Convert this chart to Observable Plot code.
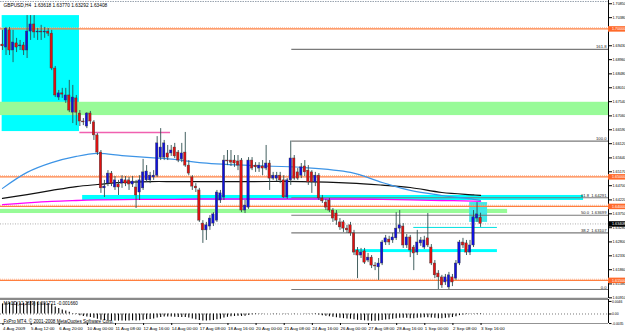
<!DOCTYPE html>
<html><head><meta charset="utf-8">
<script src="https://cdn.jsdelivr.net/npm/d3@7"></script>
<script src="https://cdn.jsdelivr.net/npm/@observablehq/plot@0.6"></script>
<style>
html,body{margin:0;padding:0;background:#fff;}
#wrap{width:625px;height:333px;overflow:hidden;background:#fff;}
#wrap svg{display:block;}
</style></head>
<body><div id="wrap"></div>
<script>
// ---------- DATA ----------
const symbol = "GBPUSD,H4";
const open = [1.6947,1.6937,1.6995,1.6927,1.6951,1.6941,1.6944,1.6927,1.6991,1.7015,
1.6988,1.6991,1.6988,1.6991,1.6984,1.6866,1.6768,1.6782,1.6758,1.6775,
1.6717,1.6765,1.6714,1.6687,1.6670,1.6714,1.6684,1.6640,1.6582,1.6461,
1.6477,1.6511,1.6464,1.6474,1.6477,1.6488,1.6488,1.6474,1.6464,1.6447,
1.6461,1.6488,1.6488,1.6498,1.6504,1.6565,1.6565,1.6579,1.6579,1.6599,
1.6582,1.6559,1.6582,1.6538,1.6498,1.6467,1.6454,1.6342,1.6319,1.6332,
1.6342,1.6352,1.6420,1.6430,1.6555,1.6555,1.6555,1.6552,1.6555,1.6386,
1.6396,1.6555,1.6538,1.6528,1.6535,1.6528,1.6545,1.6494,1.6494,1.6504,
1.6488,1.6430,1.6488,1.6562,1.6515,1.6504,1.6535,1.6521,1.6515,1.6481,
1.6504,1.6427,1.6413,1.6420,1.6386,1.6376,1.6346,1.6346,1.6325,1.6336,
1.6309,1.6251,1.6234,1.6248,1.6217,1.6227,1.6200,1.6194,1.6207,1.6278,
1.6288,1.6285,1.6292,1.6325,1.6332,1.6268,1.6295,1.6261,1.6244,1.6275,
1.6261,1.6292,1.6261,1.6207,1.6173,1.6160,1.6143,1.6126,1.6160,1.6156,
1.6207,1.6278,1.6275,1.6244,1.6268,1.6359,1.63618];
const high = [1.6995,1.7005,1.7005,1.6995,1.6968,1.6961,1.6954,1.7045,1.7045,1.7045,
1.7001,1.7012,1.7005,1.7001,1.6995,1.6873,1.6792,1.6799,1.6799,1.6826,
1.6809,1.6775,1.6724,1.6697,1.6717,1.6721,1.6690,1.6646,1.6589,1.6488,
1.6521,1.6518,1.6501,1.6488,1.6504,1.6501,1.6498,1.6501,1.6488,1.6504,
1.6559,1.6538,1.6515,1.6521,1.6636,1.6663,1.6623,1.6606,1.6606,1.6613,
1.6589,1.6613,1.6650,1.6555,1.6504,1.6477,1.6461,1.6352,1.6346,1.6369,
1.6379,1.6454,1.6454,1.6572,1.6589,1.6589,1.6572,1.6572,1.6562,1.6420,
1.6565,1.6565,1.6548,1.6548,1.6555,1.6606,1.6555,1.6515,1.6515,1.6515,
1.6504,1.6494,1.6621,1.6572,1.6528,1.6545,1.6555,1.6538,1.6521,1.6515,
1.6511,1.6437,1.6424,1.6427,1.6393,1.6386,1.6359,1.6352,1.6336,1.6346,
1.6319,1.6261,1.6258,1.6258,1.6241,1.6234,1.6210,1.6224,1.6285,1.6302,
1.6299,1.6309,1.6379,1.6386,1.6342,1.6305,1.6302,1.6268,1.6319,1.6295,
1.6299,1.6376,1.6271,1.6217,1.6183,1.6167,1.6170,1.6177,1.6170,1.6217,
1.6285,1.6292,1.6285,1.6285,1.6386,1.6413,1.63770];
const low = [1.6927,1.6910,1.6910,1.6886,1.6920,1.6927,1.6910,1.6900,1.6961,1.6968,
1.6961,1.6961,1.6968,1.6974,1.6859,1.6768,1.6758,1.6765,1.6748,1.6717,
1.6680,1.6673,1.6670,1.6673,1.6663,1.6677,1.6623,1.6572,1.6444,1.6430,
1.6467,1.6467,1.6454,1.6437,1.6461,1.6467,1.6454,1.6464,1.6393,1.6420,
1.6454,1.6481,1.6477,1.6488,1.6498,1.6555,1.6555,1.6555,1.6569,1.6562,
1.6548,1.6548,1.6532,1.6504,1.6454,1.6447,1.6346,1.6275,1.6285,1.6319,
1.6332,1.6346,1.6410,1.6420,1.6538,1.6535,1.6532,1.6521,1.6379,1.6376,
1.6390,1.6521,1.6515,1.6515,1.6504,1.6521,1.6454,1.6488,1.6484,1.6477,
1.6427,1.6424,1.6471,1.6488,1.6488,1.6494,1.6501,1.6471,1.6444,1.6467,
1.6420,1.6410,1.6386,1.6379,1.6346,1.6336,1.6319,1.6312,1.6309,1.6299,
1.6234,1.6156,1.6224,1.6204,1.6210,1.6190,1.6183,1.6150,1.6200,1.6268,
1.6268,1.6275,1.6285,1.6312,1.6258,1.6258,1.6227,1.6183,1.6234,1.6265,
1.6254,1.6261,1.6200,1.6156,1.6119,1.6123,1.6133,1.6119,1.6129,1.6150,
1.6200,1.6258,1.6234,1.6234,1.6261,1.6346,1.63292];
const close = [1.6941,1.7001,1.6927,1.6954,1.6937,1.6944,1.6927,1.6991,1.7015,1.6988,
1.6991,1.6988,1.6991,1.6984,1.6866,1.6775,1.6782,1.6778,1.6775,1.6724,
1.6768,1.6717,1.6687,1.6684,1.6714,1.6687,1.6640,1.6582,1.6461,1.6467,
1.6511,1.6477,1.6488,1.6464,1.6491,1.6477,1.6474,1.6484,1.6437,1.6488,
1.6515,1.6518,1.6504,1.6504,1.6613,1.6599,1.6613,1.6565,1.6589,1.6569,
1.6555,1.6579,1.6538,1.6511,1.6467,1.6461,1.6352,1.6319,1.6336,1.6359,
1.6373,1.6447,1.6444,1.6555,1.6552,1.6548,1.6545,1.6538,1.6386,1.6403,
1.6555,1.6528,1.6532,1.6538,1.6528,1.6545,1.6494,1.6504,1.6504,1.6488,
1.6430,1.6488,1.6562,1.6494,1.6494,1.6532,1.6515,1.6481,1.6481,1.6504,
1.6427,1.6417,1.6396,1.6386,1.6359,1.6352,1.6329,1.6325,1.6319,1.6309,
1.6244,1.6234,1.6244,1.6210,1.6227,1.6200,1.6197,1.6207,1.6278,1.6292,
1.6278,1.6295,1.6325,1.6336,1.6268,1.6295,1.6251,1.6241,1.6278,1.6285,
1.6285,1.6268,1.6207,1.6167,1.6160,1.6133,1.6160,1.6167,1.6143,1.6207,
1.6278,1.6268,1.6244,1.6268,1.6363,1.6373,1.63408];

// moving averages, read at sample bars
const maBars    = [0,7,14,21,27,34,42,49,56,71,85,99,108,116,125,134,136];
const maBlue    = [1.6461,1.6515,1.6548,1.6569,1.6579,1.6572,1.6565,1.6559,1.6548,1.6538,1.6532,1.6515,1.6481,1.6454,1.6437,1.6424,1.6420];
const maBlack   = [1.6427,1.6440,1.6454,1.6467,1.6474,1.6481,1.6484,1.6484,1.6484,1.6484,1.6484,1.6479,1.6472,1.6464,1.6447,1.6439,1.6437];
const maMagenta = [1.6406,1.6412,1.6417,1.6420,1.6422,1.6423,1.6424,1.6424,1.6425,1.6425,1.6425,1.6425,1.6424,1.6422,1.6420,1.6418,1.6417];

// oscillator histogram
const osc = [0.0037,0.0040,0.0041,0.0042,0.0041,0.0040,0.0039,0.0043,0.0046,0.0045,
0.0042,0.0041,0.0040,0.0038,0.0033,0.0026,0.0020,0.0015,0.0011,0.0006,
0.0002,-0.0002,-0.0006,-0.0009,-0.0011,-0.0013,-0.0016,-0.0019,-0.0023,-0.0025,
-0.0025,-0.0026,-0.0026,-0.0026,-0.0026,-0.0026,-0.0026,-0.0025,-0.0026,-0.0025,
-0.0023,-0.0021,-0.0020,-0.0018,-0.0015,-0.0013,-0.0011,-0.0011,-0.0011,-0.0012,
-0.0013,-0.0013,-0.0013,-0.0015,-0.0018,-0.0021,-0.0024,-0.0026,-0.0026,-0.0025,
-0.0024,-0.0021,-0.0019,-0.0015,-0.0012,-0.0010,-0.0009,-0.0008,-0.0009,-0.0008,
-0.0005,-0.0003,-0.0002,-0.0001,-0.0001,0.0000,0.0000,-0.0001,-0.0001,0.0000,
-0.0001,-0.0001,0.0000,0.0001,0.0000,0.0000,-0.0001,-0.0001,-0.0001,-0.0002,
-0.0004,-0.0006,-0.0008,-0.0010,-0.0012,-0.0014,-0.0016,-0.0017,-0.0018,-0.0019,
-0.0021,-0.0023,-0.0024,-0.0025,-0.0026,-0.0027,-0.0027,-0.0026,-0.0024,-0.0022,
-0.0021,-0.0019,-0.0017,-0.0016,-0.0016,-0.0016,-0.0017,-0.0017,-0.0016,-0.0015,
-0.0014,-0.0014,-0.0015,-0.0016,-0.0017,-0.0017,-0.0016,-0.0015,-0.0013,-0.0010,
-0.0006,-0.0004,-0.0002,-0.0001,0.0001,0.0002,0.0002];
const oscLabel = "MACD(12,26,9) 0.001721 -0.001660";
const oscTicks = [0.0046, 0, -0.0035];

// horizontal levels & zones
const roundLevels = [1.7000, 1.6500, 1.6400, 1.6150];
const fibLevel = ["161.8","100.0","61.8","50.0","38.2","0.0"];
const fibPrice = [1.69309, 1.66208, 1.64291, 1.63699, 1.63107, 1.61190];
const fibShowPrice = [false,false,true,true,true,false];
const fibStartBar = 82.3;
const zoneBig = {bars:[-0.1, 21.9], prices:[1.6653, 1.7045]};
const greenBand = {prices:[1.6707, 1.6752]};
const greenThin = {bars:[-0.6, 143.7], prices:[1.6376, 1.6390]};
const cyanBand = {bars:[22.8, 165.3], prices:[1.6420, 1.6437]};
const cyanBand2 = {bars:[99.6, 140.8], prices:[1.6244, 1.6254]};
const cyanLine = {bars:[117, 140.8], price:1.6329};
const cyanBox = {bars:[132.9, 138], prices:[1.6346, 1.6413]};
const pinkLine = {bars:[22, 47.8], price:1.6650};

const xTickBars = [0,8,16,24,32,40,48,56,64,72,80,88,96,104,112,120,128,136];
const xTickLabels = ["4 Aug 2009","5 Aug 12:00","6 Aug 20:00","10 Aug 00:00","11 Aug 08:00","12 Aug 16:00","14 Aug 00:00","17 Aug 08:00","18 Aug 16:00","20 Aug 00:00","21 Aug 08:00","24 Aug 16:00","26 Aug 00:00","27 Aug 08:00","28 Aug 16:00","1 Sep 00:00","2 Sep 08:00","3 Sep 16:00"];
// 1.6990 sits under the 1.70000 line label, so it is not printed
const yTicks = [1.6091,1.6138,1.6186,1.6233,1.6280,1.6328,1.6375,1.6422,1.6470,1.6517,1.6564,1.6612,1.6659,1.6706,1.6754,1.6801,1.6848,1.6896,1.6943,1.7038,1.7085];

// ---------- BUILD ----------
const n = open.length;
const candles = d3.range(n).map(i => ({i, o:open[i], h:high[i], l:low[i], c:close[i]}));
const last = candles[n-1];
const xDomain = [-0.57, 172.4];
const yDomain = [1.608876, 1.7096];
const font = "Liberation Sans, Arial, sans-serif";
const ma = (arr) => maBars.map((b,k) => ({i:b, v:arr[k]}));
const fib = fibLevel.map((l,k) => ({l, p:fibPrice[k], t: fibShowPrice[k] ? `${l}  ${fibPrice[k].toFixed(5)}` : l}));
const rectOf = (z, full) => [{x1: full ? xDomain[0] : z.bars[0], x2: full ? xDomain[1] : z.bars[1], y1: z.prices[0], y2: z.prices[1]}];
const xEnd = xDomain[1];
const lblW = 5; // label box width in bars
const axFs = 3.7;

const main = Plot.plot({
  width: 625, height: 298,
  marginLeft: 0, marginRight: 17, marginTop: 0, marginBottom: 0,
  style: {background: "#fff", fontFamily: font, fontSize: "4.6px", overflow: "visible"},
  x: {domain: xDomain, axis: null},
  y: {domain: yDomain},
  marks: [
    Plot.rect(rectOf(zoneBig), {x1:"x1", x2:"x2", y1:"y1", y2:"y2", fill:"#00ffff"}),
    Plot.rect(rectOf(greenBand, true), {x1:"x1", x2:"x2", y1:"y1", y2:"y2", fill:"#98fb98"}),
    Plot.rect(rectOf(greenThin), {x1:"x1", x2:"x2", y1:"y1", y2:"y2", fill:"#98fb98"}),
    Plot.rect(rectOf(cyanBand), {x1:"x1", x2:"x2", y1:"y1", y2:"y2", fill:"#00ffff"}),
    Plot.rect(rectOf(cyanBand2), {x1:"x1", x2:"x2", y1:"y1", y2:"y2", fill:"#00ffff"}),
    Plot.rect(rectOf(cyanBox), {x1:"x1", x2:"x2", y1:"y1", y2:"y2", fill:"#40e8e8"}),
    Plot.ruleY([yDomain[1]], {stroke:"#9aa4b0", strokeDasharray:"1.5,1", dy:1}),
    Plot.ruleY(roundLevels, {stroke:"#ffb08a", strokeDasharray:"1,1", strokeWidth:0.8, dy:-1.2}),
    Plot.ruleY(roundLevels, {stroke:"#ff7f3f", strokeWidth:1.3}),
    Plot.ruleY(fib, {y:"p", x1: fibStartBar, x2: xEnd, stroke:"#7a7a7a", strokeWidth:1.1}),
    Plot.ruleY([pinkLine.price], {x1: pinkLine.bars[0], x2: pinkLine.bars[1], stroke:"#f060b0", strokeWidth:1.4}),
    Plot.ruleY([cyanLine.price], {x1: cyanLine.bars[0], x2: cyanLine.bars[1], stroke:"#00e0e0", strokeWidth:1}),
    Plot.ruleY([last.c], {stroke:"#9a9a9a", strokeDasharray:"1,1.5", strokeWidth:0.8}),
    Plot.line(ma(maMagenta), {x:"i", y:"v", stroke:"#ff00ff", strokeWidth:1.3, curve:"catmull-rom"}),
    Plot.line(ma(maBlack), {x:"i", y:"v", stroke:"#111", strokeWidth:1.2, curve:"catmull-rom"}),
    Plot.line(ma(maBlue), {x:"i", y:"v", stroke:"#3d94e6", strokeWidth:1.2, curve:"catmull-rom"}),
    Plot.ruleX(candles, {x:"i", y1:"l", y2:"h", stroke:"#2f4f4f", strokeWidth:0.9}),
    Plot.rect(candles, {x1: d => d.i - 0.34, x2: d => d.i + 0.34,
      y1: d => Math.min(d.o, d.c), y2: d => Math.max(d.o, d.c),
      fill: d => d.c >= d.o ? "#1010e0" : "#e01010", stroke:"#3a3a3a", strokeWidth:0.4}),
    Plot.text(fib, {x: xEnd, y:"p", text:"t", textAnchor:"end", dx:-2, dy:-2.3, fontSize:4.2, fill:"#222"}),
    Plot.text([`${symbol}  ${last.o.toFixed(5)} ${last.h.toFixed(5)} ${last.l.toFixed(5)} ${last.c.toFixed(5)}`],
      {frameAnchor:"top-left", dx:3, dy:3.5, lineAnchor:"top", textAnchor:"start", fontSize:4.8, fill:"#000"}),
    Plot.axisY(yTicks, {anchor:"right", tickSize:3, tickPadding:1, label:null, fontSize:axFs,
      tickFormat: d => d.toFixed(4) + "0"}),
    Plot.ruleX([xEnd], {stroke:"#000", strokeWidth:1}),
    Plot.ruleY(roundLevels, {x1: xEnd, x2: xEnd + lblW, stroke:"#ff6a2a", strokeWidth:5.5}),
    Plot.text(roundLevels, {x: xEnd, y: d => d, text: d => d.toFixed(5), textAnchor:"start", dx:3.5, fill:"#fff", fontSize:axFs}),
    Plot.ruleY([last.c], {x1: xEnd, x2: xEnd + lblW, stroke:"#000", strokeWidth:5.5}),
    Plot.text([last.c], {x: xEnd, y: d => d, text: d => d.toFixed(5), textAnchor:"start", dx:3.5, fill:"#fff", fontSize:axFs})
  ]
});

const oscData = osc.map((v,i) => ({i, v}));
const sub = Plot.plot({
  width: 625, height: 35,
  marginLeft: 0, marginRight: 17, marginTop: 1, marginBottom: 10,
  style: {background: "#fff", fontFamily: font, fontSize: "4.6px", overflow: "visible"},
  x: {domain: xDomain},
  y: {domain: [-0.00348, 0.00531]},
  marks: [
    Plot.ruleY([0.00531], {stroke:"#8a8a8a", strokeWidth:2.2, dy:-0.6}),
    Plot.ruleY([0], {stroke:"#555", strokeDasharray:"1,2", strokeWidth:0.8}),
    Plot.ruleX(oscData, {x:"i", y1:0, y2:"v", stroke:"#000", strokeWidth:1.1}),
    Plot.text([oscLabel], {frameAnchor:"top-left", dx:3, dy:4.5, lineAnchor:"middle", textAnchor:"start", fontSize:4.6, fill:"#000"}),
    Plot.text(["FxPro MT4, \u00a9 2001-2008 MetaQuotes Software Corp."], {frameAnchor:"top-left", dx:3, dy:22.5, lineAnchor:"middle", textAnchor:"start", fontSize:4.6, fill:"#000"}),
    Plot.ruleY([-0.00348], {stroke:"#777", strokeWidth:0.8}),
    Plot.ruleX([xEnd], {stroke:"#000", strokeWidth:1}),
    Plot.axisY(oscTicks, {anchor:"right", tickSize:2.5, tickPadding:1, label:null, fontSize:3.4,
      tickFormat: d => d === 0 ? "0.00" : d.toFixed(4)}),
    Plot.axisX(xTickBars, {anchor:"bottom", tickSize:2, tickPadding:1.5, label:null, fontSize:4.4, textAnchor:"start", dx:0.5,
      tickFormat: d => xTickLabels[xTickBars.indexOf(d)]})
  ]
});

const wrap = document.getElementById("wrap");
wrap.appendChild(main);
wrap.appendChild(sub);
</script>
</body></html>
